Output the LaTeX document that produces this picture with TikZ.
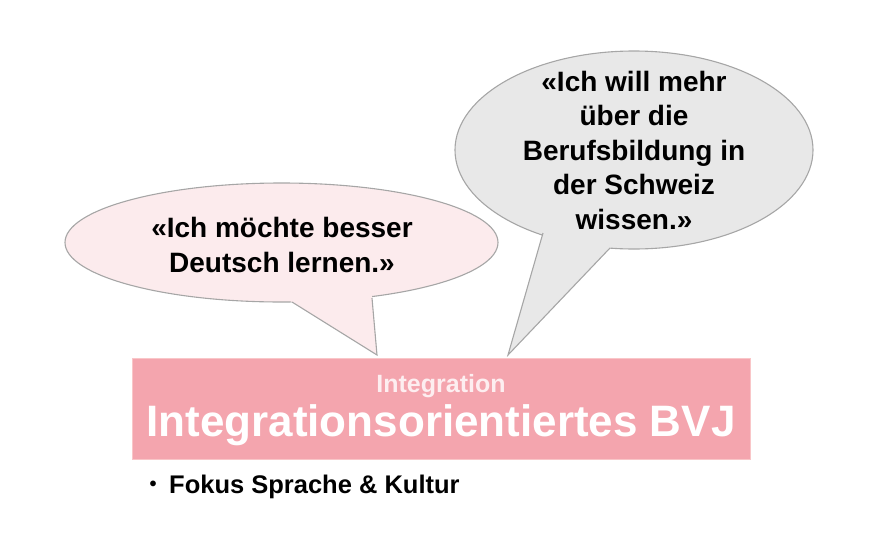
\documentclass[tikz,border=0pt]{standalone}
\usepackage{fontspec}
\setmainfont{Liberation Sans}
\usetikzlibrary{shapes.geometric}
\definecolor{bubblepink}{HTML}{FCEBED}
\definecolor{bubblegray}{HTML}{E8E8E8}
\definecolor{bubbleline}{HTML}{A6A6A6}
\definecolor{boxpink}{HTML}{F4A5AE}
\definecolor{boxline}{HTML}{F9C6C8}
\definecolor{subwhite}{HTML}{FDEEF0}
\tikzset{
  bubble/.style={ellipse, draw=bubbleline, line width=1.1pt, inner sep=0pt},
  quote/.style={font=\fontsize{28}{34.5}\selectfont\bfseries, align=center, text=black},
  tailline/.style={draw=bubbleline, line width=1.1pt, line join=miter},
}
\begin{document}
\begin{tikzpicture}[x=1pt,y=-1pt]
\useasboundingbox (0,0) rectangle (876,557);
% main box
\node[draw=boxline, fill=boxpink, line width=0.8pt, minimum width=618pt, minimum height=101pt, inner sep=0pt, anchor=north west] (box) at (132,358) {};
\node[font=\fontsize{25}{30}\selectfont\bfseries, text=subwhite] (sub) at (441,386) {Integration};
\node[font=\fontsize{44}{48}\selectfont\bfseries, text=white] (title) at (441,425) {Integrationsorientiertes BVJ};
\node[font=\fontsize{20}{24}\selectfont\bfseries, inner sep=0pt] (dot) at (153,486) {\textbullet};
\node[font=\fontsize{25.5}{30}\selectfont\bfseries, anchor=west, inner sep=0pt] (bullet) at (169,487) {Fokus Sprache \& Kultur};
% left bubble
\node[bubble, fill=bubblepink, minimum width=433pt, minimum height=119pt] (b1) at (281.5,242.5) {};
\coordinate (t1) at (377,355);
\fill[bubblepink] (281.8,295.6) -- (t1) -- (371.4,291.2) -- cycle;
\draw[tailline] (292,302) -- (t1) -- (372,298);
\node[quote] (q1) at (282,245) {«Ich möchte besser\\Deutsch lernen.»};
% right bubble
\node[bubble, fill=bubblegray, minimum width=358pt, minimum height=198pt] (b2) at (634,150) {};
\coordinate (t2) at (508,355);
\fill[bubblegray] (546.5,220.8) -- (t2) -- (620.2,237.3) -- cycle;
\draw[tailline] (543,233) -- (t2) -- (610,248);
\node[quote] (q2) at (634,150) {«Ich will mehr\\über die\\Berufsbildung in\\der Schweiz\\wissen.»};
\end{tikzpicture}
\end{document}
